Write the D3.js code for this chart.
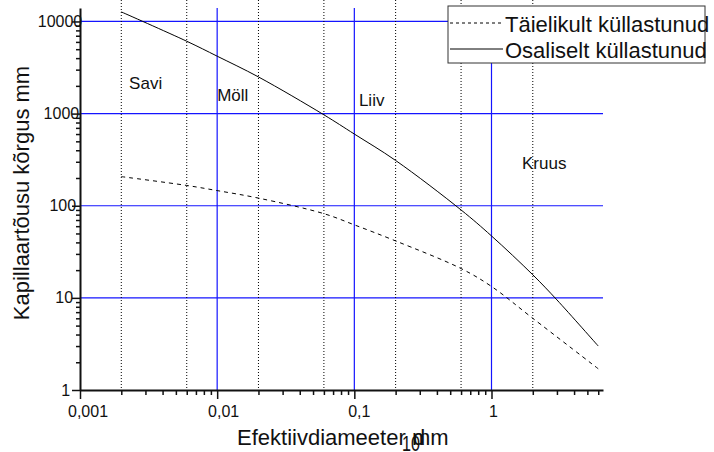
<!DOCTYPE html>
<html>
<head>
<meta charset="utf-8">
<script src="https://cdn.jsdelivr.net/npm/d3@7"></script>
<style>
    body { margin: 0; background: #fff; }
    svg { font-family: "Liberation Sans", Arial, sans-serif; }
</style>
</head>
<body>
<svg id="chart" width="714" height="452"></svg>
<script>
// effective diameter d10 (mm) and capillary rise (mm)
const diamPartial = [0.002, 0.006, 0.01, 0.02, 0.06, 0.1, 0.2, 0.6, 1, 2, 3, 6];
const risePartial = [12700, 6100, 4200, 2500, 970, 600, 310, 90, 47, 17.8, 9.5, 3.0];
const diamFull = [0.002, 0.006, 0.01, 0.02, 0.06, 0.1, 0.2, 0.6, 1, 2, 6];
const riseFull = [207, 166, 146, 121, 82, 62, 41.5, 20.8, 13.3, 6.0, 1.7];

// soil class boundaries and labels
const classBounds = [0.002, 0.006, 0.02, 0.06, 0.2, 0.6, 2];
const classNames = ["Savi", "Möll", "Liiv", "Kruus"];
const classDiam = [0.00228, 0.01, 0.108, 1.67];
const classRise = [1850, 1370, 1210, 250];

const xTicks = [0.001, 0.01, 0.1, 1];
const xTickLabels = ["0,001", "0,01", "0,1", "1"];
const yTicks = [1, 10, 100, 1000, 10000];
const yTickLabels = ["1", "10", "100", "1000", "10000"];

const seriesNames = ["Täielikult küllastunud", "Osaliselt küllastunud"];

const svg = d3.select("#chart");
const x = d3.scaleLog().domain([0.001, 6.5]).range([80, 603]);
const y = d3.scaleLog().domain([1, 14000]).range([390, 8]);

// minor tick values
const xMinor = [];
[0.001, 0.01, 0.1, 1].forEach(dec => { for (let k = 2; k <= 9; k++) if (dec * k <= 6.5) xMinor.push(dec * k); });
const yMinor = [];
[1, 10, 100, 1000].forEach(dec => { for (let k = 2; k <= 9; k++) yMinor.push(dec * k); });

// grid: blue decades
svg.append("g").selectAll("line").data(yTicks.slice(1)).join("line")
    .attr("x1", x(0.001)).attr("x2", x(6.5)).attr("y1", d => y(d)).attr("y2", d => y(d))
    .attr("stroke", "#1414ff").attr("stroke-width", 1.2)
svg.append("g").selectAll("line").data(xTicks.slice(1)).join("line")
    .attr("x1", d => x(d)).attr("x2", d => x(d)).attr("y1", y(14000)).attr("y2", y(1))
    .attr("stroke", "#1414ff").attr("stroke-width", 1.2)
// dotted class boundaries
svg.append("g").selectAll("line").data(classBounds).join("line")
    .attr("x1", d => x(d)).attr("x2", d => x(d)).attr("y1", 0).attr("y2", y(1))
    .attr("stroke", "#000").attr("stroke-width", 1).attr("stroke-dasharray", "1,2")

// class labels
svg.append("g").selectAll("text").data(classNames).join("text")
    .attr("x", (d, i) => x(classDiam[i])).attr("y", (d, i) => y(classRise[i]))
    .attr("font-size", 17).attr("fill", "#111").text(d => d)

// curves
const line = d3.line().x(d => x(d[0])).y(d => y(d[1])).curve(d3.curveCatmullRom.alpha(0.5));
svg.append("path").datum(diamFull.map((d, i) => [d, riseFull[i]]))
    .attr("d", line).attr("fill", "none").attr("stroke", "#000").attr("stroke-width", 1)
    .attr("stroke-dasharray", "4,4")
svg.append("path").datum(diamPartial.map((d, i) => [d, risePartial[i]]))
    .attr("d", line).attr("fill", "none").attr("stroke", "#000").attr("stroke-width", 1)

// axes
const xAxis = svg.append("g").attr("transform", `translate(0,${y(1)})`)
    .call(d3.axisBottom(x).tickValues(xTicks).tickSize(9).tickSizeOuter(0)
        .tickFormat((d, i) => xTickLabels[i]))
xAxis.selectAll("text").attr("y", 27).attr("dy", 0)
    .attr("dx", (d, i) => 1.5 * xTickLabels[i].length).attr("font-size", 16).attr("fill", "#111")
svg.append("g").attr("transform", `translate(0,${y(1)})`)
    .call(d3.axisBottom(x).tickValues(xMinor).tickSize(5).tickSizeOuter(0).tickFormat(""))
    .call(g => g.select(".domain").remove())

const yAxis = svg.append("g").attr("transform", `translate(${x(0.001)},0)`)
    .call(d3.axisLeft(y).tickValues(yTicks).tickSize(8).tickSizeOuter(0)
        .tickFormat((d, i) => yTickLabels[i]))
yAxis.selectAll("text").attr("text-anchor", "middle")
    .attr("x", (d, i) => -13 - 1.4 * yTickLabels[i].length).attr("font-size", 16).attr("fill", "#111")
svg.append("g").attr("transform", `translate(${x(0.001)},0)`)
    .call(d3.axisLeft(y).tickValues(yMinor).tickSize(4).tickSizeOuter(0).tickFormat(""))
    .call(g => g.select(".domain").remove())

svg.selectAll(".domain").attr("stroke", "#111").attr("stroke-width", 2)
svg.selectAll(".tick line").attr("stroke", "#111").attr("stroke-width", 1.5)

// axis titles
svg.append("text").attr("transform", "translate(29,193) rotate(-90)")
    .attr("text-anchor", "middle").attr("font-size", 22).attr("fill", "#111")
    .text("Kapillaartõusu kõrgus mm")
const xt = svg.append("g").attr("font-size", 22).attr("fill", "#111")
xt.append("text").attr("x", 237).attr("y", 445).text("Efektiivdiameeter")
xt.append("text").attr("x", 402).attr("y", 451).attr("font-size", 22)
    .attr("textLength", 18).attr("lengthAdjust", "spacingAndGlyphs").text("10")
xt.append("text").attr("x", 412).attr("y", 445).text("mm")
xt.append("text").attr("x", 413).attr("y", 445).text("d")

// legend
const lg = svg.append("g")
lg.append("rect").attr("x", 448).attr("y", 6).attr("width", 257).attr("height", 57)
    .attr("fill", "#fff").attr("stroke", "#333").attr("stroke-width", 1)
lg.append("line").attr("x1", 450).attr("x2", 503).attr("y1", 23).attr("y2", 23)
    .attr("stroke", "#000").attr("stroke-dasharray", "3,3")
lg.append("line").attr("x1", 450).attr("x2", 503).attr("y1", 49).attr("y2", 49)
    .attr("stroke", "#000")
lg.selectAll("text").data(seriesNames).join("text")
    .attr("x", 505).attr("y", (d, i) => 32 + i * 26)
    .attr("font-size", 22).attr("fill", "#111").text(d => d)
</script>
</body>
</html>
